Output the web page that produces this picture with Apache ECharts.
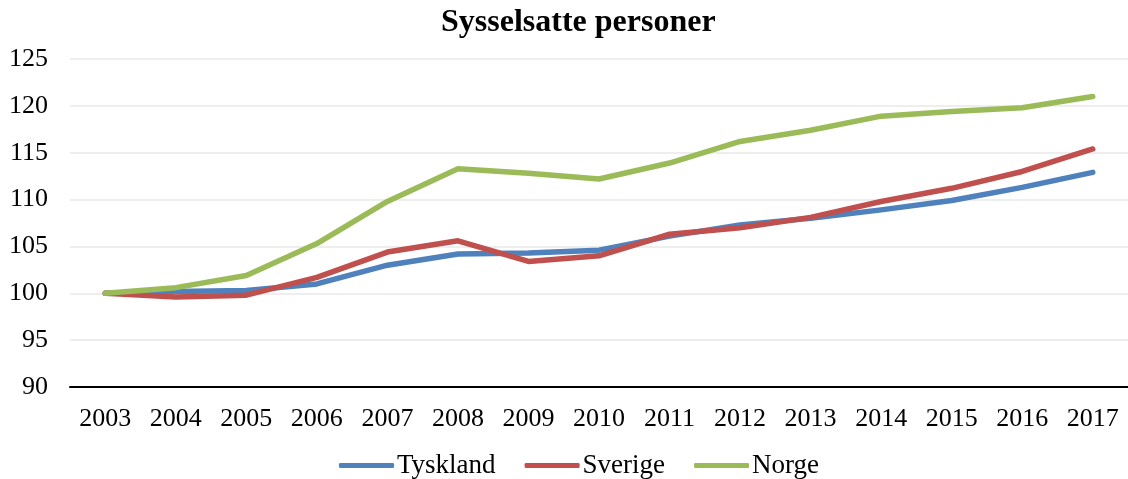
<!DOCTYPE html>
<html>
<head>
<meta charset="utf-8">
<script src="https://cdn.jsdelivr.net/npm/echarts@6/dist/echarts.min.js"></script>
<style>html,body{margin:0;padding:0;background:#fff;}#c{width:1128px;height:479px;}</style>
</head>
<body>
<div id="c"></div>
<script>
const years = ['2003','2004','2005','2006','2007','2008','2009','2010','2011','2012','2013','2014','2015','2016','2017'];
const tyskland = [100, 100.2, 100.3, 101.0, 103.0, 104.2, 104.3, 104.6, 106.1, 107.3, 108.0, 108.9, 109.9, 111.3, 112.9];
const sverige  = [100, 99.6, 99.8, 101.7, 104.4, 105.6, 103.4, 104.0, 106.3, 107.0, 108.1, 109.8, 111.2, 113.0, 115.4];
const norge    = [100, 100.6, 101.9, 105.3, 109.8, 113.3, 112.8, 112.2, 113.9, 116.2, 117.4, 118.9, 119.4, 119.8, 121.0];
const seriesNames = ['Tyskland', 'Sverige', 'Norge'];
const colors = ['#4F81BD', '#C0504D', '#9BBB59'];

const font = 'Liberation Serif';
const chart = echarts.init(document.getElementById('c'));
const mk = (name, data, color) => ({
  name, type: 'line', data, symbol: 'none', smooth: false,
  lineStyle: { color, width: 5.5, cap: 'round', join: 'round' },
  itemStyle: { color }
});
chart.setOption({
  animation: false,
  title: {
    text: 'Sysselsatte personer', left: 441, top: 7, padding: 0,
    textStyle: { fontFamily: font, fontSize: 32, fontWeight: 'bold', color: '#000' }
  },
  legend: {
    left: 339, top: 452, padding: 0, itemGap: 29, itemWidth: 55, itemHeight: 5,
    icon: 'roundRect',
    data: seriesNames,
    textStyle: { fontFamily: font, fontSize: 27, color: '#000', padding: [0, 0, 0, -2] }
  },
  grid: { left: 70, right: -9, top: 59, bottom: 92, containLabel: false },
  xAxis: {
    type: 'category', data: years, boundaryGap: true,
    axisLine: { lineStyle: { color: '#000', width: 2 } },
    axisTick: { show: false },
    axisLabel: { fontFamily: font, fontSize: 26, color: '#000', margin: 19 }
  },
  yAxis: {
    type: 'value', min: 90, max: 125, interval: 5,
    axisLine: { show: false }, axisTick: { show: false },
    splitLine: { lineStyle: { color: '#EEEEEE', width: 2 } },
    axisLabel: { fontFamily: font, fontSize: 26, color: '#000', margin: 22 }
  },
  series: [mk(seriesNames[0], tyskland, colors[0]), mk(seriesNames[1], sverige, colors[1]), mk(seriesNames[2], norge, colors[2])]
});
</script>
</body>
</html>
